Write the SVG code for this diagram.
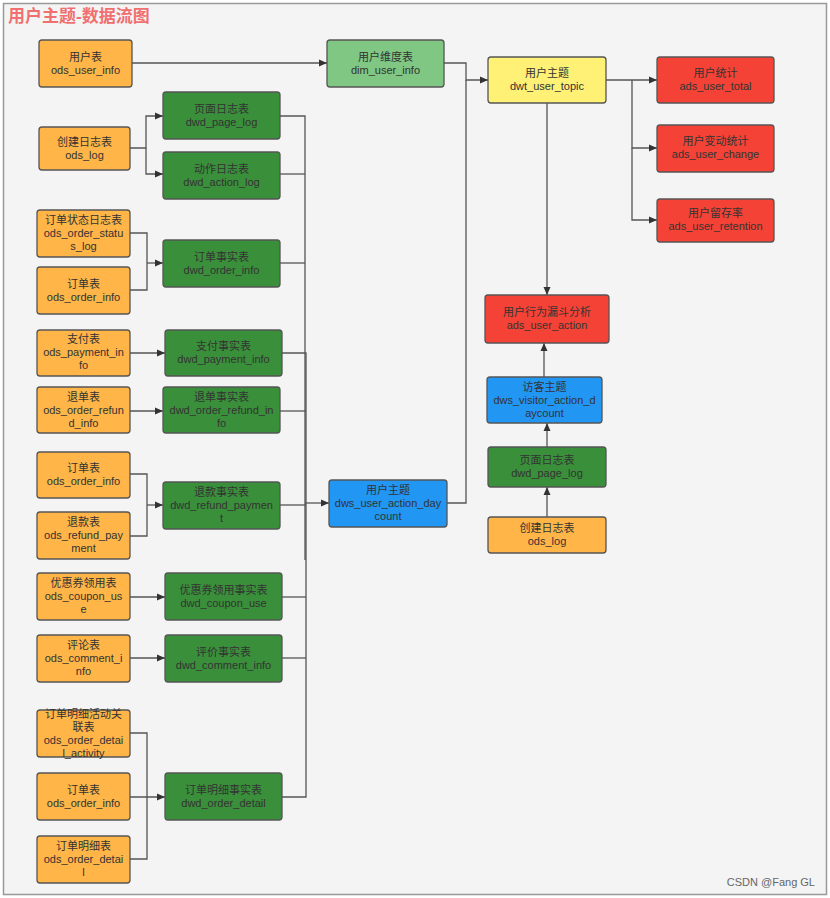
<svg xmlns="http://www.w3.org/2000/svg" width="830" height="898" viewBox="0 0 830 898">
<style>
.n rect{stroke:#555;stroke-width:1.3}
.ods{fill:#ffb547}
.dwd{fill:#3a8f3a}
.dim{fill:#80c783}
.dws{fill:#2196f3}
.dwt{fill:#fff176}
.ads{fill:#f44336}
text{font-family:"Liberation Sans","Noto Sans CJK SC",sans-serif;font-size:11px;fill:#333;text-anchor:middle}
.c path{fill:none;stroke:#555;stroke-width:1.3}
</style>
<defs>
<marker id="a" viewBox="0 0 8 8" refX="8" refY="4" markerWidth="8" markerHeight="8" markerUnits="userSpaceOnUse" orient="auto">
<path d="M0,0.5 L8,4 L0,7.5 Z" fill="#333"/>
</marker>
</defs>
<rect x="0" y="0" width="830" height="898" fill="#ffffff"/>
<rect x="3.5" y="3.5" width="823" height="891" fill="#f4f4f4" stroke="#999" stroke-width="1.5"/>
<text x="8" y="22" style="font-size:17px;font-weight:bold;fill:#f07070;text-anchor:start">用户主题-数据流图</text>
<text x="815" y="886" style="font-size:11px;fill:#666;text-anchor:end">CSDN @Fang GL</text>

<g class="c">
<path d="M132,63 H327" marker-end="url(#a)"/>
<path d="M444,63 H466 V80 H488" marker-end="url(#a)"/>
<path d="M447,503 H466 V80"/>
<path d="M606,80 H657" marker-end="url(#a)"/>
<path d="M632,80 V148 H657" marker-end="url(#a)"/>
<path d="M632,148 V220 H657" marker-end="url(#a)"/>
<path d="M547,103 V295" marker-end="url(#a)"/>
<path d="M544,377 V343" marker-end="url(#a)"/>
<path d="M547,447 V423" marker-end="url(#a)"/>
<path d="M547,517 V487" marker-end="url(#a)"/>
<path d="M130,148 H146 V116 H163" marker-end="url(#a)"/>
<path d="M146,148 V174 H163" marker-end="url(#a)"/>
<path d="M130,233 H147 V290 H130"/>
<path d="M147,263 H163" marker-end="url(#a)"/>
<path d="M130,353 H165" marker-end="url(#a)"/>
<path d="M130,411 H163" marker-end="url(#a)"/>
<path d="M130,474 H147 V536 H130"/>
<path d="M147,505 H163" marker-end="url(#a)"/>
<path d="M130,597 H165" marker-end="url(#a)"/>
<path d="M130,658 H165" marker-end="url(#a)"/>
<path d="M130,733 H147 V859 H130"/>
<path d="M130,797 H165" marker-end="url(#a)"/>
<path d="M280,116 H305 V560"/>
<path d="M280,174 H305"/>
<path d="M280,263 H305"/>
<path d="M282,353 H306 V797 H282"/>
<path d="M280,411 H306"/>
<path d="M280,505 H306"/>
<path d="M282,597 H306"/>
<path d="M282,658 H306"/>
<path d="M305,503 H329" marker-end="url(#a)"/>
</g>

<g id="ods_user_info" class="n"><rect class="ods" x="39" y="40" width="93" height="47" rx="3"/><text x="85.5" y="61">用户表</text><text x="85.5" y="74">ods_user_info</text></g>
<g id="ods_log" class="n"><rect class="ods" x="39" y="127" width="91" height="43" rx="3"/><text x="84.5" y="146">创建日志表</text><text x="84.5" y="159">ods_log</text></g>
<g id="dwd_page_log" class="n"><rect class="dwd" x="163" y="92" width="117" height="47" rx="3"/><text x="221.5" y="113">页面日志表</text><text x="221.5" y="126">dwd_page_log</text></g>
<g id="dwd_action_log" class="n"><rect class="dwd" x="163" y="152" width="117" height="47" rx="3"/><text x="221.5" y="173">动作日志表</text><text x="221.5" y="186">dwd_action_log</text></g>

<g id="ods_order_status_log" class="n"><rect class="ods" x="37" y="210" width="93" height="47" rx="3"/><text x="83.5" y="224">订单状态日志表</text><text x="83.5" y="237">ods_order_statu</text><text x="83.5" y="250">s_log</text></g>
<g id="ods_order_info_1" class="n"><rect class="ods" x="37" y="267" width="93" height="47" rx="3"/><text x="83.5" y="288">订单表</text><text x="83.5" y="301">ods_order_info</text></g>
<g id="dwd_order_info" class="n"><rect class="dwd" x="163" y="240" width="117" height="47" rx="3"/><text x="221.5" y="261">订单事实表</text><text x="221.5" y="274">dwd_order_info</text></g>

<g id="ods_payment_info" class="n"><rect class="ods" x="37" y="330" width="93" height="46" rx="3"/><text x="83.5" y="343">支付表</text><text x="83.5" y="356">ods_payment_in</text><text x="83.5" y="369">fo</text></g>
<g id="dwd_payment_info" class="n"><rect class="dwd" x="165" y="330" width="117" height="46" rx="3"/><text x="223.5" y="350">支付事实表</text><text x="223.5" y="363">dwd_payment_info</text></g>

<g id="ods_order_refund_info" class="n"><rect class="ods" x="37" y="387" width="93" height="46" rx="3"/><text x="83.5" y="401">退单表</text><text x="83.5" y="414">ods_order_refun</text><text x="83.5" y="427">d_info</text></g>
<g id="dwd_order_refund_info" class="n"><rect class="dwd" x="163" y="387" width="117" height="46" rx="3"/><text x="221.5" y="401">退单事实表</text><text x="221.5" y="414">dwd_order_refund_in</text><text x="221.5" y="427">fo</text></g>

<g id="ods_order_info_2" class="n"><rect class="ods" x="37" y="452" width="93" height="46" rx="3"/><text x="83.5" y="472">订单表</text><text x="83.5" y="485">ods_order_info</text></g>
<g id="ods_refund_payment" class="n"><rect class="ods" x="37" y="512" width="93" height="47" rx="3"/><text x="83.5" y="526">退款表</text><text x="83.5" y="539">ods_refund_pay</text><text x="83.5" y="552">ment</text></g>
<g id="dwd_refund_payment" class="n"><rect class="dwd" x="163" y="482" width="117" height="47" rx="3"/><text x="221.5" y="496">退款事实表</text><text x="221.5" y="509">dwd_refund_paymen</text><text x="221.5" y="522">t</text></g>

<g id="ods_coupon_use" class="n"><rect class="ods" x="37" y="573" width="93" height="47" rx="3"/><text x="83.5" y="587">优惠券领用表</text><text x="83.5" y="600">ods_coupon_us</text><text x="83.5" y="613">e</text></g>
<g id="dwd_coupon_use" class="n"><rect class="dwd" x="165" y="573" width="117" height="47" rx="3"/><text x="223.5" y="594">优惠券领用事实表</text><text x="223.5" y="607">dwd_coupon_use</text></g>

<g id="ods_comment_info" class="n"><rect class="ods" x="37" y="635" width="93" height="47" rx="3"/><text x="83.5" y="649">评论表</text><text x="83.5" y="662">ods_comment_i</text><text x="83.5" y="675">nfo</text></g>
<g id="dwd_comment_info" class="n"><rect class="dwd" x="165" y="635" width="117" height="47" rx="3"/><text x="223.5" y="656">评价事实表</text><text x="223.5" y="669">dwd_comment_info</text></g>

<g id="ods_order_detail_activity" class="n"><rect class="ods" x="37" y="710" width="93" height="47" rx="3"/><text x="83.5" y="718">订单明细活动关</text><text x="83.5" y="731">联表</text><text x="83.5" y="744">ods_order_detai</text><text x="83.5" y="757">l_activity</text></g>
<g id="ods_order_info_3" class="n"><rect class="ods" x="37" y="773" width="93" height="47" rx="3"/><text x="83.5" y="794">订单表</text><text x="83.5" y="807">ods_order_info</text></g>
<g id="ods_order_detail" class="n"><rect class="ods" x="37" y="836" width="93" height="47" rx="3"/><text x="83.5" y="850">订单明细表</text><text x="83.5" y="863">ods_order_detai</text><text x="83.5" y="876">l</text></g>
<g id="dwd_order_detail" class="n"><rect class="dwd" x="165" y="773" width="117" height="47" rx="3"/><text x="223.5" y="794">订单明细事实表</text><text x="223.5" y="807">dwd_order_detail</text></g>

<g id="dim_user_info" class="n"><rect class="dim" x="327" y="40" width="117" height="47" rx="3"/><text x="385.5" y="61">用户维度表</text><text x="385.5" y="74">dim_user_info</text></g>
<g id="dws_user_action_daycount" class="n"><rect class="dws" x="329" y="480" width="118" height="47" rx="3"/><text x="388" y="494">用户主题</text><text x="388" y="507">dws_user_action_day</text><text x="388" y="520">count</text></g>
<g id="dwt_user_topic" class="n"><rect class="dwt" x="488" y="57" width="118" height="46" rx="3"/><text x="547" y="77">用户主题</text><text x="547" y="90">dwt_user_topic</text></g>
<g id="ads_user_total" class="n"><rect class="ads" x="657" y="57" width="117" height="46" rx="3"/><text x="715.5" y="77">用户统计</text><text x="715.5" y="90">ads_user_total</text></g>
<g id="ads_user_change" class="n"><rect class="ads" x="657" y="125" width="117" height="47" rx="3"/><text x="715.5" y="145">用户变动统计</text><text x="715.5" y="158">ads_user_change</text></g>
<g id="ads_user_retention" class="n"><rect class="ads" x="657" y="199" width="117" height="43" rx="3"/><text x="715.5" y="217">用户留存率</text><text x="715.5" y="230">ads_user_retention</text></g>
<g id="ads_user_action" class="n"><rect class="ads" x="485" y="295" width="124" height="48" rx="3"/><text x="547" y="316">用户行为漏斗分析</text><text x="547" y="329">ads_user_action</text></g>
<g id="dws_visitor_action_daycount" class="n"><rect class="dws" x="487" y="377" width="115" height="46" rx="3"/><text x="544.5" y="391">访客主题</text><text x="544.5" y="404">dws_visitor_action_d</text><text x="544.5" y="417">aycount</text></g>
<g id="dwd_page_log_2" class="n"><rect class="dwd" x="488" y="447" width="118" height="40" rx="3"/><text x="547" y="464">页面日志表</text><text x="547" y="477">dwd_page_log</text></g>
<g id="ods_log_2" class="n"><rect class="ods" x="488" y="517" width="118" height="36" rx="3"/><text x="547" y="532">创建日志表</text><text x="547" y="545">ods_log</text></g>
</svg>
